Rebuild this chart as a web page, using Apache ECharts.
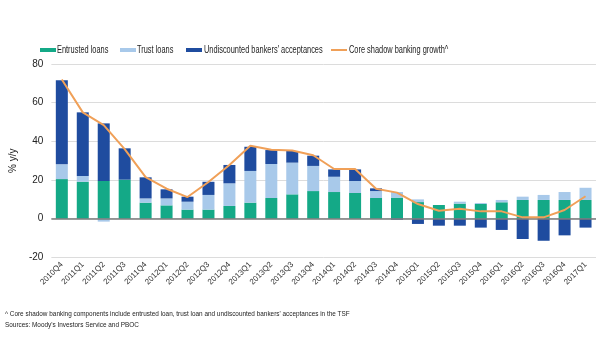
<!DOCTYPE html>
<html><head><meta charset="utf-8">
<script src="https://cdn.jsdelivr.net/npm/echarts@6/dist/echarts.min.js"></script>
<style>html,body{margin:0;padding:0;background:#fff}#c{width:600px;height:360px}</style>
</head><body><div id="c"></div>
<script>
const categories = ['2010Q4','2011Q1','2011Q2','2011Q3','2011Q4','2012Q1','2012Q2','2012Q3','2012Q4','2013Q1','2013Q2','2013Q3','2013Q4','2014Q1','2014Q2','2014Q3','2014Q4','2015Q1','2015Q2','2015Q3','2015Q4','2016Q1','2016Q2','2016Q3','2016Q4','2017Q1'];
const entrusted = [20.5,19.1,19.5,20.2,8.3,6.9,4.7,4.7,6.6,8.3,10.7,12.6,14.3,13.8,13.3,10.7,10.9,8.6,7.1,7.8,7.6,8.5,9.7,9.7,9.7,9.7];
const trust = [7.6,3.0,-1.5,0.0,2.2,3.6,4.1,7.6,11.7,16.4,17.6,16.4,13.0,7.9,6.2,3.6,2.9,1.4,0.0,1.0,0.5,1.2,1.7,2.6,4.1,6.3];
const undiscounted = [43.5,32.9,29.8,16.2,10.9,4.7,2.6,6.8,9.5,12.5,7.2,6.0,5.3,3.8,6.0,1.4,-0.5,-2.7,-3.6,-3.6,-4.6,-5.8,-10.5,-11.4,-8.6,-4.6];
const growth = [72.0,55.0,48.4,36.0,21.5,15.5,11.2,19.0,27.8,37.7,35.7,35.3,32.8,25.7,25.7,15.5,13.5,7.6,4.1,5.2,3.8,3.8,0.7,0.7,4.5,11.6];
const seriesNames = ['Entrusted loans','Trust loans',"Undiscounted bankers' acceptances",'Core shadow banking growth^'];
const yTicks = {min:-20, max:80, interval:20};
const footnotes = ["^ Core shadow banking components include entrusted loan, trust loan and undiscounted bankers' acceptances in the TSF","Sources: Moody's Investors Service and PBOC"];

const COLORS = ['#14a987','#a8c9ea','#1f4c9f','#f0a058'];
const FONT = "'Liberation Sans', Arial, sans-serif";
const chart = echarts.init(document.getElementById('c'), null, {renderer:'canvas'});
const barW = 12;

// custom narrow legend
const legendX = [[40,57],[120,137],[186,204],[331,349]];
const legendY = 50;
const legendGraphics = [];
seriesNames.forEach((n,i)=>{
  const [sx,tx] = legendX[i];
  if (i < 3) {
    legendGraphics.push({type:'rect', shape:{x:sx, y:legendY-2, width:16, height:4}, style:{fill:COLORS[i]}, silent:true});
  } else {
    legendGraphics.push({type:'line', shape:{x1:sx, y1:legendY, x2:sx+16, y2:legendY}, style:{stroke:COLORS[i], lineWidth:2}, silent:true});
  }
  legendGraphics.push({type:'text', x:tx, y:legendY, scaleX:0.74, style:{text:n, font:"10px "+FONT, fill:'#222', textVerticalAlign:'middle', verticalAlign:'middle'}, silent:true});
});

chart.setOption({
  animation:false,
  textStyle:{fontFamily:FONT},
  grid:{left:40, right:4, top:64, bottom:102.6},
  legend:{show:false, data:seriesNames},
  xAxis:{
    type:'category', data:categories,
    axisLine:{show:false}, axisTick:{show:false},
    axisLabel:{interval:0, rotate:45, fontSize:8, color:'#333', fontFamily:FONT, margin:6}
  },
  yAxis:{
    type:'value', min:yTicks.min, max:yTicks.max, interval:yTicks.interval,
    name:'% y/y', nameLocation:'middle', nameGap:22, nameRotate:90,
    nameTextStyle:{fontSize:10, color:'#222', fontFamily:FONT},
    axisLabel:{fontSize:10, color:'#222', fontFamily:FONT, margin:8},
    axisLine:{show:false}, axisTick:{show:false},
    splitLine:{lineStyle:{color:'#dcdcdc', width:1}}
  },
  series:[
    {name:seriesNames[0], type:'bar', stack:'s', data:entrusted, barWidth:barW, itemStyle:{color:COLORS[0]},
     markLine:{silent:true, symbol:'none', label:{show:false}, lineStyle:{color:'#7a7a7a', width:1.5, type:'solid'}, data:[{yAxis:0}], z:5}},
    {name:seriesNames[1], type:'bar', stack:'s', data:trust, barWidth:barW, itemStyle:{color:COLORS[1]}},
    {name:seriesNames[2], type:'bar', stack:'s', data:undiscounted, barWidth:barW, itemStyle:{color:COLORS[2]}},
    {name:seriesNames[3], type:'line', data:growth, symbol:'none', z:10,
     lineStyle:{color:COLORS[3], width:2}, itemStyle:{color:COLORS[3]}}
  ],
  graphic:legendGraphics.concat([
    {type:'text', x:5, y:310, scaleX:0.8, style:{text:footnotes[0], font:"8px "+FONT, fill:'#222'}, silent:true},
    {type:'text', x:5, y:321, scaleX:0.8, style:{text:footnotes[1], font:"8px "+FONT, fill:'#222'}, silent:true}
  ])
});
</script></body></html>
